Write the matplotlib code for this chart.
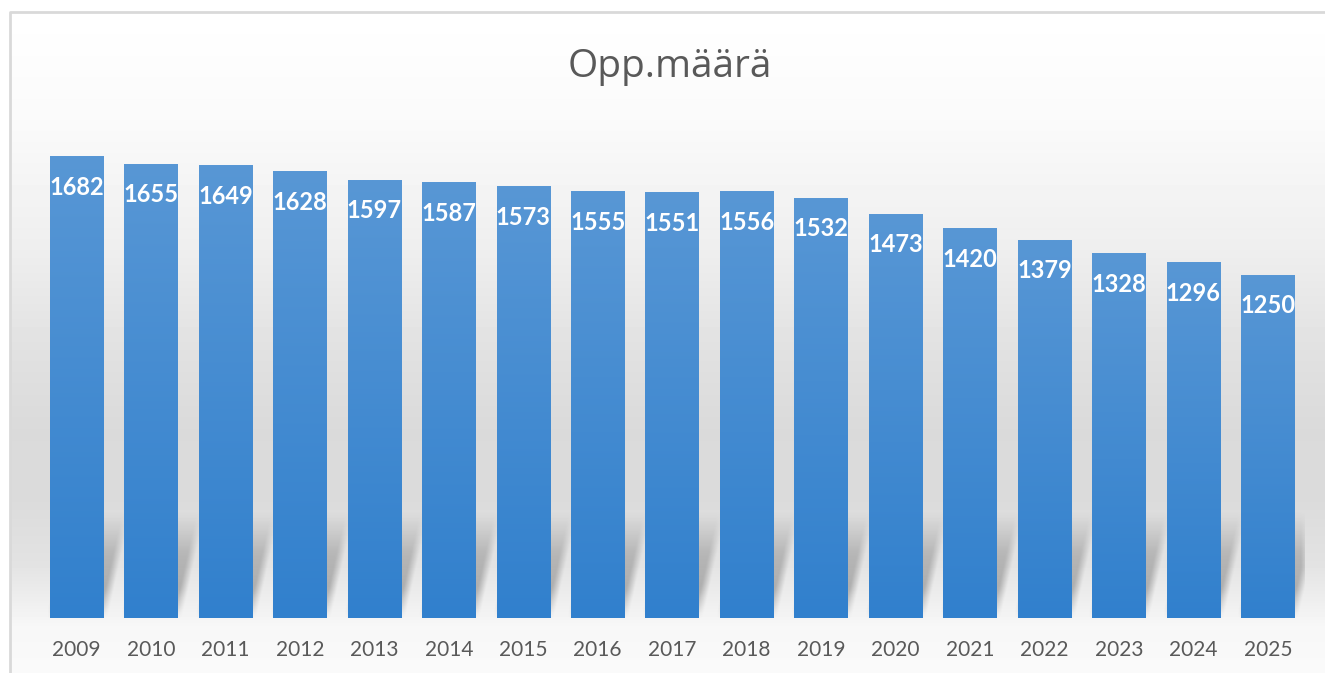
import numpy as np
import matplotlib.pyplot as plt
from matplotlib.colors import LinearSegmentedColormap

years = ['2009', '2010', '2011', '2012', '2013', '2014', '2015', '2016', '2017',
         '2018', '2019', '2020', '2021', '2022', '2023', '2024', '2025']
students = [1682, 1655, 1649, 1628, 1597, 1587, 1573, 1555, 1551,
            1556, 1532, 1473, 1420, 1379, 1328, 1296, 1250]

W, H = 1325, 673
plt.rcParams['font.family'] = ['Lato', 'DejaVu Sans']
fig = plt.figure(figsize=(W / 100, H / 100), dpi=100)

# chart area: white -> grey -> white vertical gradient, thin grey frame
bg = fig.add_axes([0, 0, 1, 1])
bg.set_xlim(0, W)
bg.set_ylim(H, 0)
bg.axis('off')
rows = np.arange(12, H)
stops_y = [12, 120, 250, 350, 430, 500, 560, 600, 625, 673]
stops_v = [255, 250, 238, 225, 218, 219, 226, 238, 247, 250]
shade = np.interp(rows, stops_y, stops_v) / 255
shade_img = np.tile(shade[:, None], (1, 8))
bg.imshow(shade_img, extent=(10, W, H, 12), cmap='gray', vmin=0, vmax=1,
          aspect='auto', interpolation='nearest')
bg.plot([10, 10, W], [H, 12, 12], color='#d9d9d9', lw=2)

# plot area
ax = fig.add_axes([39.3 / W, (H - 618) / H, (1305 - 39.3) / W, 493.4 / H])
ax.patch.set_alpha(0)
for s in ax.spines.values():
    s.set_visible(False)

x = np.arange(len(years))
bar_w = 0.716
bars = ax.bar(x, students, width=bar_w, color='none', linewidth=0, zorder=4)

# bar fill: lighter at the top, deeper blue at the bottom
blue = LinearSegmentedColormap.from_list('blue', ['#3180cd', '#5897d5'])
grad = np.linspace(0, 1, 256)[:, None]
for r in bars:
    ax.imshow(grad, extent=(r.get_x(), r.get_x() + r.get_width(), 0, r.get_height()),
              origin='lower', cmap=blue, aspect='auto', zorder=3)

ymax = 1800
ax.set_xlim(-0.5, len(years) - 0.5)
ax.set_ylim(0, ymax)

# slanted, blurred shadow at the foot of each bar (perspective shadow)
bb = ax.get_window_extent()
px_x = bb.width / len(years)
px_y = bb.height / ymax
nx, ny = 1400, 130
gx = np.linspace(-0.5, len(years) - 0.5, nx)
gy_px = np.linspace(0, 120, ny)
GX, GY = np.meshgrid(gx, gy_px)
shift = 0.22 * GY / px_x
mask = np.zeros_like(GX)
for r in bars:
    left = r.get_x() + shift
    mask[(GX >= left) & (GX <= left + r.get_width())] = 1
fade = np.interp(gy_px, [0, 10, 30, 65, 105], [0.0, 0.6, 1.0, 0.75, 0.0])
mask = mask * fade[:, None]
k = np.ones(9) / 9
mask = np.apply_along_axis(lambda v: np.convolve(v, k, mode='same'), 1, mask)
mask = np.apply_along_axis(lambda v: np.convolve(v, k, mode='same'), 0, mask)
rgba = np.zeros((ny, nx, 4))
rgba[..., :3] = 0.3
rgba[..., 3] = 0.38 * mask
ax.imshow(rgba, extent=(-0.5, len(years) - 0.5, 0, 120 / px_y), origin='lower',
          aspect='auto', zorder=2, interpolation='bilinear')
ax.set_xlim(-0.5, len(years) - 0.5)
ax.set_ylim(0, ymax)

# value labels inside the top of each bar
for r, v in zip(bars, students):
    ax.annotate(str(v), xy=(r.get_x() + r.get_width() / 2, v), xytext=(0, -27.4),
                textcoords='offset points', ha='center', va='baseline',
                color='white', fontweight='bold', fontsize=17, zorder=5)

ax.set_yticks([])
ax.set_xticks(x, years)
ax.tick_params(axis='x', length=0, pad=16.2, labelsize=15, labelcolor='#595959')

fig.text(670 / W, 1 - 77 / H, 'Opp.määrä', ha='center', va='baseline',
         fontsize=28, color='#595959', family=['Open Sans', 'DejaVu Sans'])

fig.savefig('out.png', dpi=100)
